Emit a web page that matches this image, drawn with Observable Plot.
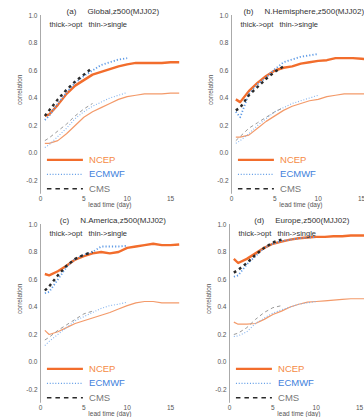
<!DOCTYPE html>
<html>
<head>
<meta charset="utf-8">
<script src="https://cdn.jsdelivr.net/npm/d3@7"></script>
<script src="https://cdn.jsdelivr.net/npm/@observablehq/plot@0.6"></script>
<style>
  body { margin: 0; background: #fff; }
  #wrap { position: relative; width: 364px; height: 417px; overflow: hidden; background: #fff; }
</style>
</head>
<body>
<div id="wrap"></div>
<script>
// lead times (days)
const days = [0.5, 1, 2, 3, 4, 5, 6, 7, 8, 9, 10, 11, 12, 13, 14, 15, 16];

const panelLetters = ["(a)", "(b)", "(c)", "(d)"];
const panelTitles = ["Global,z500(MJJ02)", "N.Hemisphere,z500(MJJ02)", "N.America,z500(MJJ02)", "Europe,z500(MJJ02)"];
const subTitle = "thick->opt   thin->single";
const xLabel = "lead time (day)";
const yLabel = "correlation";
const seriesNames = ["NCEP", "ECMWF", "CMS"];
const xTicks = [0, 5, 10, 15];
const yTicks = [-0.2, 0, 0.2, 0.4, 0.6, 0.8, 1.0];

// (a) Global
const ncepOptA    = [0.27, 0.28, 0.35, 0.43, 0.49, 0.53, 0.57, 0.59, 0.61, 0.63, 0.645, 0.655, 0.655, 0.655, 0.655, 0.66, 0.66];
const ncepSingleA = [0.07, 0.07, 0.09, 0.14, 0.20, 0.26, 0.30, 0.33, 0.36, 0.39, 0.41, 0.42, 0.43, 0.43, 0.43, 0.435, 0.435];
const ecmwfOptA    = [0.24, 0.27, 0.36, 0.44, 0.51, 0.56, 0.60, 0.64, 0.66, 0.68, 0.69];
const ecmwfSingleA = [0.04, 0.06, 0.12, 0.18, 0.25, 0.30, 0.34, 0.37, 0.40, 0.42, 0.44];
const cmsOptA    = [0.27, 0.31, 0.39, 0.46, 0.52, 0.57, 0.62];
const cmsSingleA = [0.09, 0.11, 0.16, 0.21, 0.27, 0.32, 0.36];

// (b) N.Hemisphere
const ncepOptB    = [0.39, 0.37, 0.45, 0.51, 0.56, 0.60, 0.62, 0.63, 0.65, 0.66, 0.67, 0.675, 0.69, 0.69, 0.69, 0.685, 0.68];
const ncepSingleB = [0.115, 0.115, 0.13, 0.18, 0.23, 0.27, 0.31, 0.34, 0.36, 0.38, 0.39, 0.41, 0.42, 0.43, 0.43, 0.43, 0.43];
const ecmwfOptB    = [0.30, 0.26, 0.43, 0.50, 0.55, 0.61, 0.66, 0.68, 0.70, 0.71, 0.72];
const ecmwfSingleB = [0.07, 0.09, 0.14, 0.20, 0.25, 0.30, 0.33, 0.36, 0.38, 0.40, 0.42];
const cmsOptB    = [0.31, 0.33, 0.42, 0.48, 0.54, 0.59, 0.63];
const cmsSingleB = [0.09, 0.12, 0.18, 0.22, 0.26, 0.30, 0.33];

// (c) N.America
const ncepOptC    = [0.64, 0.63, 0.66, 0.70, 0.745, 0.77, 0.79, 0.80, 0.79, 0.80, 0.83, 0.84, 0.85, 0.86, 0.85, 0.85, 0.855];
const ncepSingleC = [0.23, 0.20, 0.22, 0.25, 0.28, 0.30, 0.32, 0.34, 0.36, 0.385, 0.41, 0.43, 0.44, 0.44, 0.43, 0.43, 0.43];
const ecmwfOptC    = [0.50, 0.51, 0.60, 0.69, 0.75, 0.78, 0.80, 0.84, 0.84, 0.84, 0.845];
const ecmwfSingleC = [0.12, 0.15, 0.20, 0.25, 0.30, 0.33, 0.36, 0.39, 0.41, 0.42, 0.435];
const cmsOptC    = [0.52, 0.55, 0.63, 0.70, 0.75, 0.78, 0.80];
const cmsSingleC = [0.16, 0.18, 0.23, 0.27, 0.31, 0.35, 0.37];

// (d) Europe
const ncepOptD    = [0.75, 0.72, 0.75, 0.79, 0.83, 0.86, 0.875, 0.89, 0.90, 0.905, 0.91, 0.91, 0.915, 0.915, 0.92, 0.92, 0.92];
const ncepSingleD = [0.29, 0.275, 0.275, 0.28, 0.31, 0.345, 0.37, 0.40, 0.42, 0.435, 0.44, 0.445, 0.45, 0.455, 0.46, 0.46, 0.46];
const ecmwfOptD    = [0.62, 0.63, 0.71, 0.77, 0.83, 0.86, 0.88, 0.89, 0.90, 0.905, 0.91];
const ecmwfSingleD = [0.185, 0.19, 0.22, 0.28, 0.32, 0.355, 0.38, 0.40, 0.42, 0.43, 0.44];
const cmsOptD    = [0.65, 0.67, 0.72, 0.78, 0.83, 0.87, 0.89];
const cmsSingleD = [0.20, 0.21, 0.25, 0.31, 0.36, 0.395, 0.41];

const panelsData = [
  {ncep: [ncepOptA, ncepSingleA], ecmwf: [ecmwfOptA, ecmwfSingleA], cms: [cmsOptA, cmsSingleA]},
  {ncep: [ncepOptB, ncepSingleB], ecmwf: [ecmwfOptB, ecmwfSingleB], cms: [cmsOptB, cmsSingleB]},
  {ncep: [ncepOptC, ncepSingleC], ecmwf: [ecmwfOptC, ecmwfSingleC], cms: [cmsOptC, cmsSingleC]},
  {ncep: [ncepOptD, ncepSingleD], ecmwf: [ecmwfOptD, ecmwfSingleD], cms: [cmsOptD, cmsSingleD]}
];

// layout (pixel placement of each panel SVG)
const placement = [
  {left: 0, top: 0}, {left: 191, top: 0},
  {left: 0, top: 209}, {left: 189, top: 209}
];

const C = {
  ncep: "#f26d2c", ncepThin: "#f39a6a", ncepText: "#f58a45",
  ecmwf: "#5f9be6", ecmwfThin: "#86b4ee", ecmwfText: "#3f7fdc",
  cms: "#2a2a2a", cmsThin: "#9a9a9a", cmsText: "#777"
};
const font = "'Liberation Sans', Arial, sans-serif";

const toPts = (vals) => vals.map((v, i) => ({day: days[i], v}));

function makePanel(k) {
  const d = panelsData[k];
  const W = 182, H = 208;
  const marginLeft = 40, marginTop = 15;
  const plotW = 138.7, plotBottom = 193.75;
  const legY = [-0.05, -0.155, -0.26];
  const line = (vals, o) => Plot.line(toPts(vals), {x: "day", y: "v", strokeLinecap: "butt", ...o});
  return Plot.plot({
    width: W, height: H,
    marginLeft, marginTop,
    marginRight: W - marginLeft - plotW,
    marginBottom: H - plotBottom,
    x: {domain: [0, 16], ticks: xTicks, tickSize: 0, tickPadding: 2, label: null},
    y: {domain: [-0.3, 1.0], ticks: yTicks, tickSize: 0, tickPadding: 3, label: null,
        tickFormat: t => t.toFixed(1)},
    style: {fontFamily: font, fontSize: "6.5px", color: "#555", background: "transparent", overflow: "visible"},
    marks: [
      Plot.ruleX([0], {stroke: "#aaa", strokeWidth: 1}),
      // single (thin)
      line(d.ncep[1], {stroke: C.ncepThin, strokeWidth: 1.2}),
      line(d.ecmwf[1], {stroke: C.ecmwfThin, strokeWidth: 1.1, strokeDasharray: "1,1.8"}),
      line(d.cms[1], {stroke: C.cmsThin, strokeWidth: 1, strokeDasharray: "3.5,3"}),
      // opt (thick)
      line(d.ncep[0], {stroke: C.ncep, strokeWidth: 2.4}),
      line(d.ecmwf[0], {stroke: C.ecmwf, strokeWidth: 1.8, strokeDasharray: "1.2,2"}),
      line(d.cms[0], {stroke: C.cms, strokeWidth: 2.4, strokeDasharray: "2.8,3.4"}),
      // legend
      Plot.ruleY([legY[0]], {x1: 0.8, x2: 4.95, stroke: C.ncep, strokeWidth: 2.4}),
      Plot.ruleY([legY[1]], {x1: 0.8, x2: 4.95, stroke: C.ecmwf, strokeWidth: 1.3, strokeDasharray: "1,1.8"}),
      Plot.ruleY([legY[2]], {x1: 0.8, x2: 4.95, stroke: C.cms, strokeWidth: 1.5, strokeDasharray: "4.5,4"}),
      Plot.text([seriesNames[0]], {x: 5.6, y: legY[0], text: t => t, textAnchor: "start", fill: C.ncepText, fontSize: 9.5}),
      Plot.text([seriesNames[1]], {x: 5.6, y: legY[1], text: t => t, textAnchor: "start", fill: C.ecmwfText, fontSize: 9.5}),
      Plot.text([seriesNames[2]], {x: 5.6, y: legY[2], text: t => t, textAnchor: "start", fill: C.cmsText, fontSize: 9.5}),
      // titles
      Plot.text([panelLetters[k] + "\u00a0\u00a0\u00a0\u00a0\u00a0" + panelTitles[k]], {
        frameAnchor: "top", lineAnchor: "middle", dx: 3, dy: -4, text: t => t,
        fontSize: 8, fill: "#333"
      }),
      Plot.text([subTitle.replace(/ /g, "\u00a0")], {
        frameAnchor: "top-left", lineAnchor: "middle", textAnchor: "start", dx: 9, dy: 9, text: t => t,
        fontSize: 7.5, fill: "#333"
      }),
      Plot.text([yLabel], {
        frameAnchor: "left", rotate: -90, dx: -21, lineAnchor: "middle", text: t => t,
        fontSize: 6.5, fill: "#555"
      }),
      Plot.text([xLabel], {
        frameAnchor: "bottom", lineAnchor: "middle", dy: 10.5, text: t => t,
        fontSize: 6.5, fill: "#555"
      })
    ]
  });
}

const wrap = document.getElementById("wrap");
for (let k = 0; k < 4; k++) {
  const el = makePanel(k);
  el.style.left = placement[k].left + "px";
  el.style.top = placement[k].top + "px";
  el.style.position = "absolute";
  wrap.appendChild(el);
}
</script>
</body>
</html>
